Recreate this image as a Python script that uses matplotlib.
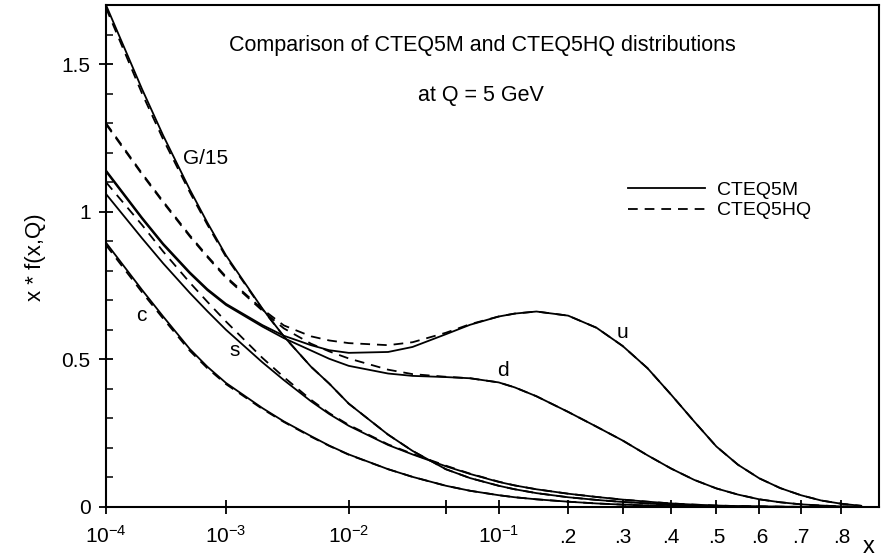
import numpy as np
import matplotlib
matplotlib.use('Agg')
import matplotlib.pyplot as plt
from matplotlib.lines import Line2D
from matplotlib.ticker import FixedLocator, NullFormatter

plt.rcParams['font.family'] = ['Liberation Sans', 'DejaVu Sans']
plt.rcParams['mathtext.default'] = 'regular'
plt.rcParams['lines.scale_dashes'] = False

x = [1e-4, 2e-4, 3e-4, 5e-4, 7e-4, 1e-3, 2e-3, 3e-3, 5e-3, 7e-3, 1e-2, 2e-2, 3e-2,
     5e-2, 0.07, 0.1, 0.12, 0.15, 0.2, 0.25, 0.3, 0.35, 0.4, 0.45, 0.5, 0.55, 0.6,
     0.65, 0.7, 0.75, 0.8, 0.85]

# CTEQ5M (solid)
g_m = [1.70, 1.415, 1.258, 1.075, 0.963, 0.852, 0.672, 0.578, 0.475, 0.418, 0.350, 0.245,
       0.19, 0.128, 0.098, 0.072, 0.06, 0.047, 0.033, 0.024, 0.017, 0.012, 0.008, 0.005,
       0.0033, 0.002, 0.0012, 0.0007, 0.0003, 0.0001, 0.0, 0.0]
u_m = [1.14, 0.98, 0.892, 0.795, 0.738, 0.688, 0.616, 0.58, 0.548, 0.531, 0.522, 0.525,
       0.542, 0.585, 0.617, 0.645, 0.655, 0.662, 0.648, 0.607, 0.545, 0.47, 0.38, 0.29,
       0.205, 0.143, 0.097, 0.064, 0.04, 0.022, 0.011, 0.004]
d_m = [1.136, 0.976, 0.888, 0.791, 0.734, 0.684, 0.611, 0.572, 0.53, 0.502, 0.478, 0.452,
       0.444, 0.44, 0.436, 0.422, 0.405, 0.375, 0.322, 0.272, 0.225, 0.175, 0.13, 0.092,
       0.063, 0.042, 0.026, 0.016, 0.009, 0.005, 0.002, 0.0005]
s_m = [1.06, 0.91, 0.825, 0.725, 0.663, 0.60, 0.49, 0.43, 0.358, 0.315, 0.275, 0.21,
       0.178, 0.138, 0.112, 0.085, 0.073, 0.06, 0.045, 0.034, 0.025, 0.018, 0.012, 0.008,
       0.005, 0.003, 0.002, 0.001, 0.0005, 0.0002, 0.0, 0.0]
c_m = [0.895, 0.735, 0.645, 0.535, 0.475, 0.42, 0.335, 0.29, 0.24, 0.208, 0.178, 0.128,
       0.102, 0.072, 0.055, 0.04, 0.033, 0.026, 0.018, 0.012, 0.008, 0.005, 0.003, 0.002,
       0.001, 0.0005, 0.0, 0.0, 0.0, 0.0, 0.0, 0.0]

# CTEQ5HQ (dashed)
g_hq = [1.69, 1.40, 1.245, 1.066, 0.956, 0.847, 0.670, 0.578, 0.475, 0.418, 0.350, 0.245,
        0.19, 0.128, 0.098, 0.072, 0.06, 0.047, 0.033, 0.024, 0.017, 0.012, 0.008, 0.005,
        0.0033, 0.002, 0.0012, 0.0007, 0.0003, 0.0001, 0.0, 0.0]
u_hq = [1.30, 1.13, 1.035, 0.92, 0.85, 0.78, 0.67, 0.615, 0.578, 0.564, 0.555, 0.548,
        0.558, 0.59, 0.619, 0.645, 0.655, 0.662, 0.648, 0.607, 0.545, 0.47, 0.38, 0.29,
        0.205, 0.143, 0.097, 0.064, 0.04, 0.022, 0.011, 0.004]
d_hq = [1.296, 1.126, 1.031, 0.916, 0.846, 0.776, 0.665, 0.605, 0.553, 0.527, 0.503, 0.465,
        0.45, 0.441, 0.436, 0.422, 0.405, 0.375, 0.322, 0.272, 0.225, 0.175, 0.13, 0.092,
        0.063, 0.042, 0.026, 0.016, 0.009, 0.005, 0.002, 0.0005]
s_hq = [1.10, 0.955, 0.865, 0.76, 0.695, 0.628, 0.505, 0.44, 0.363, 0.318, 0.278, 0.212,
        0.18, 0.14, 0.113, 0.086, 0.073, 0.06, 0.045, 0.034, 0.025, 0.018, 0.012, 0.008,
        0.005, 0.003, 0.002, 0.001, 0.0005, 0.0002, 0.0, 0.0]
c_hq = [0.887, 0.727, 0.638, 0.529, 0.47, 0.416, 0.332, 0.288, 0.238, 0.207, 0.177, 0.128,
        0.102, 0.072, 0.055, 0.04, 0.033, 0.026, 0.018, 0.012, 0.008, 0.005, 0.003, 0.002,
        0.001, 0.0005, 0.0, 0.0, 0.0, 0.0, 0.0, 0.0]

xticks = [1e-4, 1e-3, 1e-2, 0.05, 0.1, 0.2, 0.3, 0.4, 0.5, 0.6, 0.7, 0.8]
xticklabels = ['$10^{-4}$', '$10^{-3}$', '$10^{-2}$', '', '$10^{-1}$',
               '.2', '.3', '.4', '.5', '.6', '.7', '.8']
yticks = [0, 0.5, 1, 1.5]
yticklabels = ['0', '0.5', '1', '1.5']

# mixed log / linear x axis
K = 2.8


def fwd(v):
    v = np.asarray(v, dtype=float)
    with np.errstate(divide='ignore', invalid='ignore'):
        return np.log10(v) + K * v


grid = np.logspace(-7, 0.3, 5000)


def inv(t):
    return np.interp(t, fwd(grid), grid)


fig = plt.figure(figsize=(8.92, 5.58), dpi=100)
ax = fig.add_axes([106 / 892, 1 - 507 / 558, 773 / 892, 502 / 558])
ax.set_xscale('function', functions=(fwd, inv))

lw = 1.3
dash = (0, (7, 5))
for yy in [g_m, u_m, d_m, s_m, c_m]:
    ax.plot(x, yy, color='black', lw=lw)
for yy in [g_hq, u_hq, d_hq, s_hq, c_hq]:
    ax.plot(x, yy, color='black', lw=lw, ls=dash)

ax.set_xlim(1e-4, 0.895)
ax.set_ylim(0, 1.7)

ax.xaxis.set_major_locator(FixedLocator(xticks))
ax.xaxis.set_minor_locator(FixedLocator([]))
ax.set_xticklabels(xticklabels)
ax.set_yticks(yticks)
ax.set_yticklabels(yticklabels)
ax.yaxis.set_minor_locator(FixedLocator(np.arange(0, 1.71, 0.1)))
ax.yaxis.set_minor_formatter(NullFormatter())

ax.tick_params(axis='both', which='major', direction='inout', length=10, width=1.3,
               labelsize=15, color='black')
ax.tick_params(axis='y', which='minor', direction='in', length=5, width=1.1)
ax.tick_params(axis='y', which='major', pad=6)
ax.tick_params(axis='x', which='major', pad=21)
for lab in ax.get_xticklabels():
    lab.set_verticalalignment('baseline')
for sp in ax.spines.values():
    sp.set_linewidth(1.5)

# curve labels
ax.text(4.4e-4, 1.18, 'G/15', fontsize=15, ha='left', va='center')
ax.text(0.30, 0.59, 'u', fontsize=15, ha='center', va='center')
ax.text(0.105, 0.463, 'd', fontsize=15, ha='center', va='center')
ax.text(1.19e-3, 0.53, 's', fontsize=15, ha='center', va='center')
ax.text(1.96e-4, 0.649, 'c', fontsize=15, ha='center', va='center')

fig.text(482 / 892, 1 - 45 / 558, 'Comparison of CTEQ5M and CTEQ5HQ distributions',
         fontsize=15.5, ha='center', va='center')
fig.text(481 / 892, 1 - 95 / 558, 'at Q = 5 GeV', fontsize=15.5, ha='center', va='center')
fig.text(35 / 892, 1 - 257 / 558, 'x * f(x,Q)', fontsize=16, rotation=90,
         ha='center', va='center')
fig.text(869 / 892, 1 - 553 / 558, 'x', fontsize=17, ha='center', va='baseline')

handles = [Line2D([], [], color='black', lw=lw),
           Line2D([], [], color='black', lw=lw, ls=dash)]
ax.legend(handles, ['CTEQ5M', 'CTEQ5HQ'], loc='upper left', bbox_to_anchor=(0.675, 0.649),
          frameon=False, fontsize=14, handlelength=3.96, handletextpad=0.62,
          labelspacing=0.15, borderpad=0, borderaxespad=0)

fig.savefig('out.png', dpi=100)
